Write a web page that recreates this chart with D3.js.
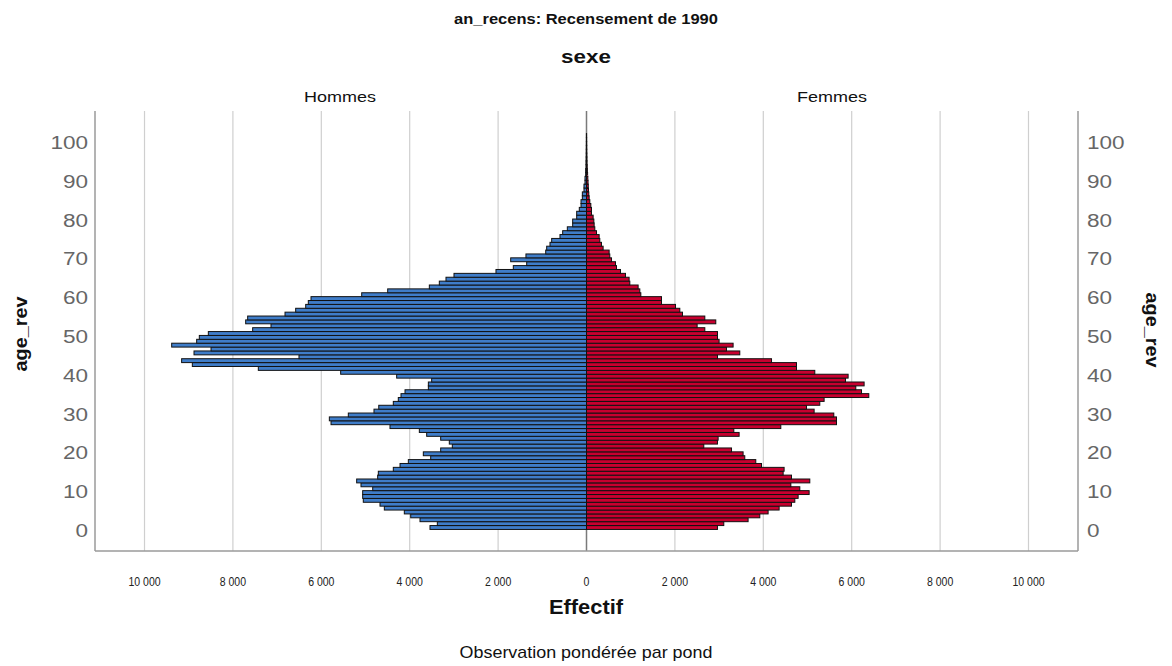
<!DOCTYPE html>
<html><head><meta charset="utf-8">
<script src="https://cdn.jsdelivr.net/npm/d3@7"></script>
<style>body{margin:0;background:#fff}</style>
</head><body>
<svg id="c" width="1172" height="666"></svg>
<script>
// ---- data ----
const ages = d3.range(0, 102);
const hommes = [3541,3375,3767,3977,4122,4574,4672,5050,5064,5064,4837,5102,5200,4725,4710,4371,4219,4031,3525,3692,3299,3036,3104,3299,3616,3782,4446,5780,5818,5389,4808,4700,4371,4258,
 4197,4106,3578,3578,3503,4295,5562,7425,8918,9160,6505,8880,8495,9385,8820,8760,8556,7553,7138,7711,7666,6821,6580,6353,6294,6233,5086,4498,3556,3330,3179,2998,2048,1656,1353,1715,
 1370,923,901,826,788,600,539,434,313,313,222,222,163,124,124,94,94,57,57,34,34,19,19,11,11,8,6,5,4,3,2,2];
const femmes = [2963,3106,3656,3921,4109,4358,4638,4713,4788,5037,4826,4623,5052,4638,4449,4471,3959,3830,3581,3543,3281,2654,2963,2978,3453,3333,4396,5656,5656,5595,5150,4977,5278,5376,
 6387,6222,6093,6281,5860,5919,5165,4751,4751,4186,2964,3468,3167,3317,3000,2964,2964,2677,2503,2925,2677,2172,2111,2014,1697,1697,1229,1206,1168,980,964,882,769,679,656,566,
 527,512,376,339,301,286,226,188,173,166,150,113,113,98,75,60,52,45,40,35,30,25,20,16,12,10,8,6,5,4,3,2];
const xTickValues = [0,2000,4000,6000,8000,10000];
const yTickValues = [0,10,20,30,40,50,60,70,80,90,100];
const groupLabels = ["Hommes","Femmes"];
const colors = {Hommes:"#3f7dc9", Femmes:"#c8002f"};

// ---- layout ----
const svg = d3.select("#c");
const plot = {left:95, right:1078, top:111, bottom:551};
const cx = 586.5;
const xL = d3.scaleLinear().domain([0,11120]).range([cx, plot.left]);
const xR = d3.scaleLinear().domain([0,11120]).range([cx, plot.right]);
const y = d3.scaleLinear().domain([0,100]).range([527.5,139.5]);
const fmt = d3.formatLocale({decimal:",",thousands:"\u00a0",grouping:[3],currency:["",""]}).format(",");

// gridlines
const grid = svg.append("g");
xTickValues.filter(d=>d>0).forEach(v=>{
  [xL(v), xR(v)].forEach(px=>{
    grid.append("line").attr("x1",px).attr("x2",px).attr("y1",plot.top).attr("y2",plot.bottom)
      .attr("stroke","#cfcfcf").attr("stroke-width",1.2);
  });
});
grid.append("line").attr("x1",cx).attr("x2",cx).attr("y1",plot.top).attr("y2",plot.bottom)
  .attr("stroke","#7a7a7a").attr("stroke-width",1.5);

// bars
const data = ages.map((a,i)=>({age:a, h:hommes[i], f:femmes[i]}));
const bars = svg.append("g").attr("stroke","#111").attr("stroke-width",1);
bars.selectAll("rect.h").data(data).join("rect").attr("class","h")
  .attr("x",d=>xL(d.h)).attr("width",d=>cx - xL(d.h))
  .attr("y",d=>y(d.age+0.5)).attr("height",d=>y(d.age-0.5)-y(d.age+0.5))
  .attr("fill",colors.Hommes);
bars.selectAll("rect.f").data(data).join("rect").attr("class","f")
  .attr("x",cx).attr("width",d=>xR(d.f)-cx)
  .attr("y",d=>y(d.age+0.5)).attr("height",d=>y(d.age-0.5)-y(d.age+0.5))
  .attr("fill",colors.Femmes);

// axes frame
const frame = svg.append("g").attr("stroke","#9a9a9a").attr("stroke-width",1.5).attr("fill","none");
frame.append("line").attr("x1",plot.left).attr("x2",plot.right).attr("y1",plot.bottom).attr("y2",plot.bottom);
frame.append("line").attr("x1",plot.left).attr("x2",plot.left).attr("y1",plot.top).attr("y2",plot.bottom);
frame.append("line").attr("x1",plot.right).attr("x2",plot.right).attr("y1",plot.top).attr("y2",plot.bottom);

// helper: horizontally scaled text
const FONT = "'Liberation Sans', Arial, sans-serif";
function T(txt, x, yy, size, opts={}){
  const sx = opts.sx || 1, rot = opts.rot || 0;
  return svg.append("text")
    .attr("transform",`translate(${x},${yy}) rotate(${rot}) scale(${sx},1)`)
    .attr("text-anchor",opts.anchor||"middle")
    .attr("dy",opts.dy||null)
    .attr("font-family",FONT).attr("font-size",size)
    .attr("font-weight",opts.bold?"bold":"normal")
    .attr("fill",opts.fill||"#111").text(txt);
}

// y tick labels
yTickValues.forEach(v=>{
  T(v, 88, y(v)+3, 18, {anchor:"end", sx:1.25, dy:"0.36em", fill:"#666"});
  T(v, 1087, y(v)+3, 18, {anchor:"start", sx:1.25, dy:"0.36em", fill:"#666"});
});

// x tick labels
xTickValues.forEach(v=>{
  T(fmt(v), xL(v), 586, 13.5, {sx:0.78, fill:"#222"});
  if(v>0) T(fmt(v), xR(v), 586, 13.5, {sx:0.78, fill:"#222"});
});

// titles
T("an_recens: Recensement de 1990", 586, 24, 15, {bold:true, sx:1.1});
T("sexe", 586, 63, 19, {bold:true, sx:1.18});
T(groupLabels[0], 340, 102, 15, {sx:1.2});
T(groupLabels[1], 832, 102, 15, {sx:1.2});
T("Effectif", 586, 614, 19.5, {bold:true, sx:1.12});
T("Observation pondérée par pond", 586, 658, 16, {sx:1.12});
T("age_rev", 27, 334, 18, {bold:true, rot:-90, sx:1.1});
T("age_rev", 1146, 330, 18, {bold:true, rot:90, sx:1.1});
</script>
</body></html>
